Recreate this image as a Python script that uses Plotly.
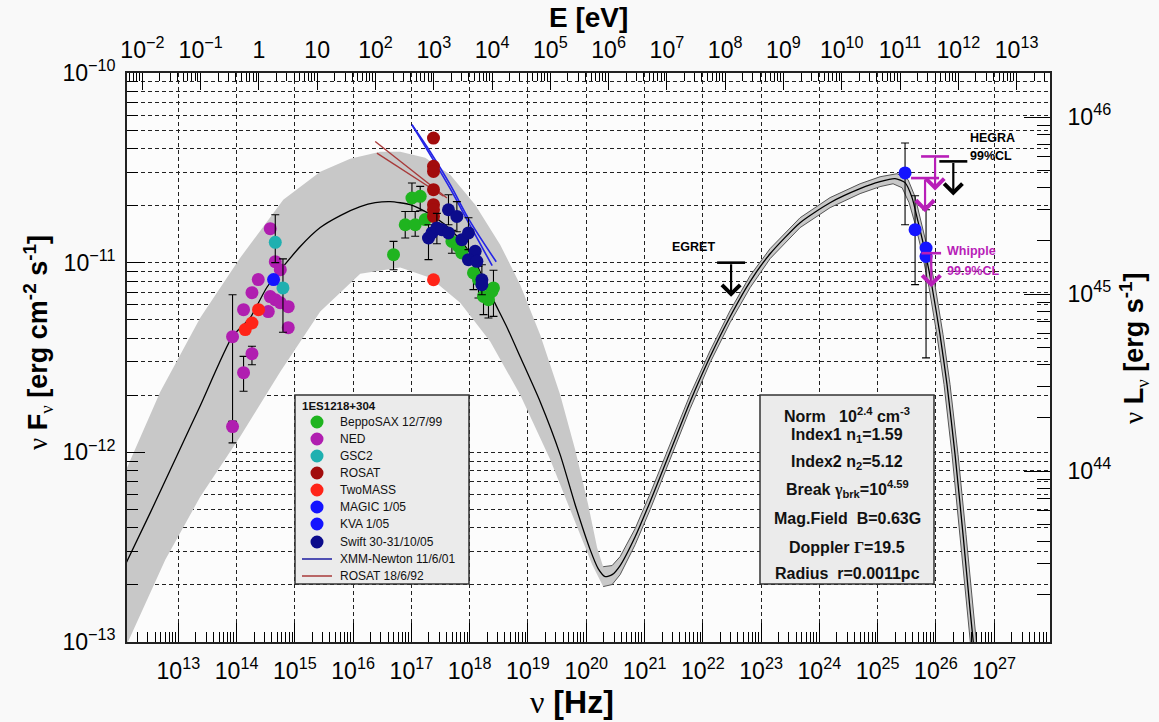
import numpy as np
import plotly.graph_objects as go

# ---------------------------------------------------------------
# 1ES1218+304 spectral energy distribution
# all values: log10(nu / Hz), log10(nu F_nu / erg cm^-2 s^-1)
# ---------------------------------------------------------------

# SSC model curve
model_lognu = [12.10, 12.520, 13.000, 13.377, 13.926, 14.235, 14.527, 15.093, 15.436, 15.779,
               16.122, 16.379, 16.636, 16.979, 17.271, 17.580, 17.837, 18.094, 18.403, 18.643,
               18.866, 19.209, 19.552, 19.810, 20.067, 20.204, 20.324, 20.444, 20.581, 20.839,
               21.096, 21.439, 21.782, 22.125, 22.468, 22.811, 23.154, 23.669, 24.183, 24.698,
               25.041, 25.298, 25.470, 25.590, 25.693, 25.813, 25.933, 26.070, 26.190, 26.328,
               26.465, 26.585, 26.688]
model_logf = [-12.587, -12.318, -12.002, -11.754, -11.390, -11.290, -11.127, -10.915, -10.815, -10.752,
              -10.705, -10.684, -10.678, -10.694, -10.736, -10.800, -10.879, -10.995, -11.195, -11.343,
              -11.496, -11.733, -12.012, -12.276, -12.513, -12.613, -12.655, -12.645, -12.597, -12.445,
              -12.260, -11.997, -11.733, -11.496, -11.285, -11.100, -10.953, -10.789, -10.684, -10.610,
              -10.573, -10.557, -10.578, -10.657, -10.784, -10.942, -11.127, -11.380, -11.643, -12.012,
              -12.434, -12.829, -13.145]

# model uncertainty band: upper and lower envelopes
band_hi_lognu = [12.10, 12.691, 13.377, 14.063, 14.801, 15.436, 15.950, 16.465, 16.808, 17.237,
                 17.666, 18.094, 18.523, 18.866, 19.209, 19.552, 19.810, 20.033, 20.187, 20.290,
                 20.444, 20.581, 20.839, 21.096, 21.439, 21.782, 22.125, 22.468, 22.811, 23.154,
                 23.669, 24.183, 24.698, 25.041, 25.333, 25.521, 25.641, 25.744, 25.864, 25.985,
                 26.122, 26.242, 26.379, 26.516, 26.636, 26.739]
band_hi_logf = [-12.095, -11.680, -11.290, -10.974, -10.668, -10.520, -10.452, -10.415, -10.415, -10.447,
                -10.536, -10.694, -10.905, -11.116, -11.380, -11.696, -11.986, -12.276, -12.503, -12.603,
                -12.597, -12.550, -12.402, -12.218, -11.959, -11.696, -11.464, -11.253, -11.069, -10.926,
                -10.763, -10.657, -10.584, -10.547, -10.531, -10.562, -10.652, -10.779, -10.937, -11.121,
                -11.380, -11.643, -12.012, -12.434, -12.829, -13.145]
band_lo_lognu = [12.039, 12.777, 13.377, 14.063, 14.750, 15.436, 16.122, 16.808, 17.322, 17.837,
                 18.352, 18.866, 19.381, 19.810, 20.101, 20.290, 20.444, 20.581, 20.839, 21.096,
                 21.439, 21.782, 22.125, 22.468, 22.811, 23.154, 23.669, 24.183, 24.698, 25.041,
                 25.264, 25.419, 25.539, 25.641, 25.762, 25.882, 26.019, 26.139, 26.276, 26.413,
                 26.533, 26.636]
band_lo_logf = [-13.066, -12.566, -12.234, -11.917, -11.575, -11.258, -11.058, -11.026, -11.079, -11.211,
                -11.416, -11.696, -12.038, -12.365, -12.592, -12.708, -12.697, -12.645, -12.487, -12.302,
                -12.033, -11.770, -11.527, -11.316, -11.132, -10.979, -10.815, -10.710, -10.636, -10.599,
                -10.584, -10.605, -10.684, -10.794, -10.947, -11.132, -11.385, -11.643, -12.012, -12.434,
                -12.829, -13.145]

# BeppoSAX 12/7/99 (error limits: None = no bar)
sax_lognu = [16.693, 16.894, 17.065, 17.237, 17.009, 17.151, 17.695, 17.808, 17.866, 18.065,
             18.151, 18.237, 18.322, 18.408, 18.381]
sax_logf = [-10.958, -10.800, -10.800, -10.773, -10.659, -10.650, -10.888, -10.914, -10.949, -11.054,
            -11.090, -11.178, -11.195, -11.133, -11.151]
sax_lo = [-11.037, -10.870, -10.861, None, -10.730, -10.726, -10.950, None, None, -11.142,
          -11.186, -11.274, -11.292, -11.283, None]
sax_hi = [-10.888, -10.730, -10.730, None, -10.580, -10.598, -10.830, None, None, -11.001,
          -11.019, -11.107, -11.116, -11.040, None]

# NED archival optical/IR
ned_lognu = [14.578, 14.664, 14.750, 14.372, 14.264, 14.120, 14.578, 14.664, 14.750, 14.887,
             14.544, 14.887, 13.931, 14.264, 14.120, 13.931]
ned_logf = [-10.821, -10.995, -11.037, -11.089, -11.158, -11.248, -11.179, -11.195, -11.211, -11.232,
            -11.258, -11.343, -11.390, -11.480, -11.580, -11.864]
ned_lo = [None] * 12 + [-11.837, -11.538, -11.678, -11.950]
ned_hi = [None] * 12 + [-11.169, -11.441, -11.494, -11.837]

# GSC2
gsc2_lognu = [14.664, 14.796]
gsc2_logf = [-10.893, -11.133]
gsc2_lo = [-11.000, -11.367]
gsc2_hi = [-10.747, -10.980]

# ROSAT
rosat_lognu = [17.379, 17.379, 17.379, 17.379, 17.379, 17.379, 17.379]
rosat_logf = [-10.343, -10.492, -10.519, -10.615, -10.694, -10.721, -10.756]

# TwoMASS
twomass_lognu = [14.149, 14.264, 14.377, 17.379]
twomass_logf = [-11.353, -11.318, -11.248, -11.090]

# KVA 1/05
kva_lognu = [14.635]
kva_logf = [-11.089]

# Swift 30-31/10/05
swift_lognu = [17.293, 17.352, 17.437, 17.523, 17.636, 17.780, 17.636, 17.866, 17.979, 18.094,
               17.979, 18.123, 18.209, 18.209]
swift_logf = [-10.870, -10.843, -10.817, -10.826, -10.721, -10.756, -10.843, -10.879, -10.843, -10.940,
              -10.984, -10.993, -11.090, -11.116]
swift_lo = [-10.984, None, -10.900, None, -10.800, -10.837, None, None, -10.931, None,
            None, None, -11.169, None]
swift_hi = [-10.800, None, -10.740, None, -10.642, -10.678, None, None, -10.763, None,
            None, None, -11.011, None]

# MAGIC 1/05
magic_lognu = [25.470, 25.642, 25.830, 25.830]
magic_logf = [-10.527, -10.826, -10.923, -10.967]
magic_lo = [-10.800, -11.116, None, -11.502]
magic_hi = [-10.369, -10.647, None, -10.721]

# XMM-Newton 11/6/01 and ROSAT 18/6/92 power-law fits (bow-tie edges)
xmm_a_lognu = [17.009, 17.322, 17.666, 18.009, 18.455]
xmm_a_logf = [-10.273, -10.415, -10.589, -10.784, -10.995]
xmm_b_lognu = [17.009, 17.322, 17.666, 18.009, 18.386]
xmm_b_logf = [-10.273, -10.431, -10.610, -10.805, -11.016]
rosfit_a_lognu = [16.379, 17.609]
rosfit_a_logf = [-10.361, -10.659]
rosfit_b_lognu = [16.408, 17.551]
rosfit_b_logf = [-10.422, -10.650]

# upper limits
egret_lognu, egret_logul = [22.485], [-11.000]
hegra_lognu, hegra_logul = [26.298], [-10.466]
whipple_lognu, whipple_logul = [25.985, 25.813], [-10.440, -10.554]
whipple999_lognu, whipple999_logul = [25.920], [-10.950]

# SSC model parameters
param_lines = [
    "Norm&nbsp;&nbsp;&nbsp;10<sup>2.4</sup> cm<sup>-3</sup>",
    "Index1 n<sub>1</sub>=1.59",
    "Index2 n<sub>2</sub>=5.12",
    "Break <span style='font-family:Liberation Serif'>γ</span><sub>brk</sub>=10<sup>4.59</sup>",
    "Mag.Field&nbsp; B=0.63G",
    "Doppler <span style='font-family:Liberation Serif'>Γ</span>=19.5",
    "Radius&nbsp; r=0.0011pc",
]

# legend entries
legend_title = "1ES1218+304"
legend_labels = ["BeppoSAX 12/7/99", "NED", "GSC2", "ROSAT", "TwoMASS", "MAGIC 1/05",
                 "KVA 1/05", "Swift 30-31/10/05", "XMM-Newton 11/6/01", "ROSAT 18/6/92"]
legend_colors = ["#1fb41f", "#b01eb0", "#1fb0b0", "#a20c0c", "#ff2418", "#1414ff",
                 "#1414ff", "#0c0c8c", "#1c1ca0", "#a83a3a"]
legend_kinds = ["marker"] * 8 + ["line"] * 2

# ---------------------------------------------------------------
FONT = "Liberation Sans, Arial, Helvetica, sans-serif"
H_EV = 14.3836          # log10(nu/Hz) - log10(E/eV)
X_RANGE = [12.12, 27.957]
Y_RANGE = [-13.0, -10.0]
YR_RANGE = [43.034, 46.249]   # nu L_nu axis
ARROW_DEC = 0.18               # length of upper-limit arrows (decades)

# plot area in pixels
L, R, T, B = 127, 1050, 73, 642
W, H = 1159, 722


def px(x):
    return (x - L) / (R - L)


def py(y):
    return (B - y) / (B - T)


def lin(v):
    return 10.0 ** np.asarray(v, dtype=float)


def err_arrays(logf, lo, hi):
    y = lin(logf)
    up = [10.0 ** h - v if h is not None else 0.0 for h, v in zip(hi, y)]
    dn = [v - 10.0 ** l if l is not None else 0.0 for l, v in zip(lo, y)]
    return up, dn


fig = go.Figure()

# model band
fig.add_trace(go.Scatter(
    x=np.concatenate([lin(band_hi_lognu), lin(band_lo_lognu)[::-1]]),
    y=np.concatenate([lin(band_hi_logf), lin(band_lo_logf)[::-1]]),
    mode="lines", fill="toself", fillcolor="#c8c8c8", line=dict(width=0),
    showlegend=False, hoverinfo="skip"))

# band edges in the inverse-Compton part
for bx, by in ((band_hi_lognu, band_hi_logf), (band_lo_lognu, band_lo_logf)):
    bx = np.asarray(bx)
    sel = bx >= 20.28
    fig.add_trace(go.Scatter(
        x=lin(bx[sel]), y=lin(np.asarray(by)[sel]), mode="lines",
        line=dict(color="#555555", width=1), showlegend=False, hoverinfo="skip"))

# model curve
fig.add_trace(go.Scatter(
    x=lin(model_lognu), y=lin(model_logf), mode="lines",
    line=dict(color="black", width=1.3, shape="spline", smoothing=0.6),
    showlegend=False, hoverinfo="skip"))

# bow-ties
for bx, by in ((xmm_a_lognu, xmm_a_logf), (xmm_b_lognu, xmm_b_logf)):
    fig.add_trace(go.Scatter(x=lin(bx), y=lin(by), mode="lines", name=legend_labels[8],
                             showlegend=False, line=dict(color="#2424e6", width=1.6, shape="spline")))
for bx, by in ((rosfit_a_lognu, rosfit_a_logf), (rosfit_b_lognu, rosfit_b_logf)):
    fig.add_trace(go.Scatter(x=lin(bx), y=lin(by), mode="lines", name=legend_labels[9],
                             showlegend=False, line=dict(color=legend_colors[9], width=1.4)))


def add_points(idx, lognu, logf, lo=None, hi=None, size=13):
    kw = {}
    if lo is not None:
        up, dn = err_arrays(logf, lo, hi)
        kw["error_y"] = dict(type="data", symmetric=False, array=up, arrayminus=dn,
                             color="black", thickness=1.1, width=4)
    fig.add_trace(go.Scatter(
        x=lin(lognu), y=lin(logf), mode="markers", name=legend_labels[idx], showlegend=False,
        marker=dict(color=legend_colors[idx], size=size, line=dict(width=0)), **kw))


add_points(0, sax_lognu, sax_logf, sax_lo, sax_hi)
add_points(1, ned_lognu, ned_logf, ned_lo, ned_hi)
add_points(2, gsc2_lognu, gsc2_logf, gsc2_lo, gsc2_hi)
add_points(3, rosat_lognu, rosat_logf)
add_points(4, twomass_lognu, twomass_logf)
add_points(6, kva_lognu, kva_logf)
add_points(7, swift_lognu, swift_logf, swift_lo, swift_hi)
add_points(5, magic_lognu, magic_logf, magic_lo, magic_hi)


def add_upper_limits(lognu, logul, color, bar=20):
    fig.add_trace(go.Scatter(
        x=lin(lognu), y=lin(logul), mode="markers",
        marker=dict(symbol="line-ew", size=bar, line=dict(color=color, width=2.6)),
        showlegend=False, hoverinfo="skip"))
    for xn, yl in zip(lognu, logul):
        fig.add_annotation(x=xn, y=yl - ARROW_DEC, ax=xn, ay=yl,
                           xref="x", yref="y", axref="x", ayref="y", text="",
                           showarrow=True, arrowhead=4, arrowsize=1.6, arrowwidth=2.2,
                           arrowcolor=color)


add_upper_limits(egret_lognu, egret_logul, "black")
add_upper_limits(hegra_lognu, hegra_logul, "black")
add_upper_limits(whipple_lognu, whipple_logul, "#b81eb8")
add_upper_limits(whipple999_lognu, whipple999_logul, "#b81eb8", bar=14)

# helper traces so the secondary axes are drawn
fig.add_trace(go.Scatter(x=[1.0], y=[1e-11], xaxis="x2", yaxis="y", mode="markers",
                         marker=dict(opacity=0), showlegend=False, hoverinfo="skip"))
fig.add_trace(go.Scatter(x=[1e20], y=[1e45], xaxis="x", yaxis="y2", mode="markers",
                         marker=dict(opacity=0), showlegend=False, hoverinfo="skip"))

# labels of the upper limits
lab = dict(xref="x", yref="y", showarrow=False, yanchor="middle", font=dict(family=FONT, size=12.5))
fig.add_annotation(x=egret_lognu[0] - 0.24, y=egret_logul[0] + 0.08, text="<b>EGRET</b>",
                   xanchor="right", **lab)
fig.add_annotation(x=hegra_lognu[0] + 0.25, y=hegra_logul[0] + 0.125, text="<b>HEGRA</b>",
                   xanchor="left", **lab)
fig.add_annotation(x=hegra_lognu[0] + 0.25, y=hegra_logul[0] + 0.03, text="<b>99%CL</b>",
                   xanchor="left", **lab)
labm = dict(lab, font=dict(family=FONT, size=12.5, color="#b81eb8"))
fig.add_annotation(x=whipple999_lognu[0] + 0.24, y=whipple999_logul[0] + 0.01, text="<b>Whipple</b>",
                   xanchor="left", **labm)
fig.add_annotation(x=whipple999_lognu[0] + 0.24, y=whipple999_logul[0] - 0.095, text="<b>99.9%CL</b>",
                   xanchor="left", **labm)


def paper_text(x, y, text, size, xanchor="center", angle=0, color="black"):
    fig.add_annotation(x=px(x), y=py(y), xref="paper", yref="paper", showarrow=False,
                       xanchor=xanchor, yanchor="middle", textangle=angle, text=text,
                       font=dict(family=FONT, size=size, color=color))


# parameter box
fig.add_shape(type="rect", xref="paper", yref="paper", x0=px(760), x1=px(934), y0=py(584), y1=py(395),
              fillcolor="#ebebeb", line=dict(color="#333333", width=1.5), layer="above")
param_y = [415, 436, 463, 489, 518, 547, 573]
for txt, yy in zip(param_lines, param_y):
    paper_text(847, yy, "<b>" + txt + "</b>", 16, color="#111")

# legend box
fig.add_shape(type="rect", xref="paper", yref="paper", x0=px(295), x1=px(469), y0=py(584), y1=py(395),
              fillcolor="#ebebeb", line=dict(color="#333333", width=1.5), layer="above")
paper_text(300, 406, "<b>" + legend_title + "</b>", 11.5, xanchor="left", color="#111")
legend_y = [422, 439, 456, 473, 490, 507, 524, 542, 559, 576]
for lbl, col, kind, yy in zip(legend_labels, legend_colors, legend_kinds, legend_y):
    if kind == "marker":
        fig.add_shape(type="circle", xref="paper", yref="paper", xsizemode="pixel", ysizemode="pixel",
                      xanchor=px(317), yanchor=py(yy), x0=-6.5, x1=6.5, y0=-6.5, y1=6.5,
                      fillcolor=col, line=dict(width=0), layer="above")
    else:
        fig.add_shape(type="line", xref="paper", yref="paper", x0=px(302), x1=px(332),
                      y0=py(yy), y1=py(yy), line=dict(color=col, width=1.5), layer="above")
    paper_text(338, yy, lbl, 12, xanchor="left", color="#111")

# axis titles
nu = "<span style='font-family:Liberation Serif'>ν</span>"
paper_text(588, 18, "<b>E [eV]</b>", 28)
paper_text(572, 702, nu + " <b>[Hz]</b>", 32)
paper_text(38, 343, nu + " <b>F</b><sub>" + nu + "</sub> <b>[erg cm<sup>-2</sup> s<sup>-1</sup>]</b>",
           27, angle=-90)
paper_text(1134, 348, nu + " <b>L</b><sub>" + nu + "</sub> <b>[erg s<sup>-1</sup>]</b>", 27, angle=-90)

tickfont = dict(family=FONT, size=18.5, color="black")
grid_dash = "4px,3px"

fig.update_layout(
    width=W, height=H,
    margin=dict(l=L, r=W - R, t=T, b=H - B, autoexpand=False),
    paper_bgcolor="#f9f9f9", plot_bgcolor="#fcfcfc",
    font=dict(family=FONT, color="black"),
    showlegend=False,
    xaxis=dict(type="log", range=X_RANGE, dtick=1, exponentformat="power",
               ticks="inside", ticklen=19, tickwidth=1, tickcolor="black",
               showline=True, linecolor="#222", linewidth=1.5,
               showgrid=True, gridcolor="#222", gridwidth=1, griddash=grid_dash,
               minor=dict(dtick="D1", ticks="inside", ticklen=10, tickcolor="black", showgrid=False),
               tickfont=tickfont, ticklabelstandoff=8, zeroline=False),
    xaxis2=dict(type="log", overlaying="x", side="top", anchor="y",
                range=[X_RANGE[0] - H_EV, X_RANGE[1] - H_EV], dtick=1, exponentformat="power",
                ticks="inside", ticklen=17, tickwidth=1, tickcolor="black",
                showline=True, linecolor="#222", linewidth=1.5, showgrid=False,
                minor=dict(dtick="D1", ticks="inside", ticklen=8, tickcolor="black", showgrid=False),
                tickfont=tickfont, ticklabelstandoff=5, zeroline=False),
    yaxis=dict(type="log", range=Y_RANGE, dtick=1, exponentformat="power",
               ticks="inside", ticklen=18, tickwidth=1, tickcolor="black",
               showline=True, linecolor="#222", linewidth=1.5,
               showgrid=True, gridcolor="#222", gridwidth=1, griddash=grid_dash,
               minor=dict(dtick="D1", ticks="inside", ticklen=11, tickcolor="black",
                          showgrid=True, gridcolor="#222", gridwidth=1, griddash=grid_dash),
               tickfont=tickfont, ticklabelstandoff=6, zeroline=False),
    yaxis2=dict(type="log", overlaying="y", side="right", anchor="x",
                range=YR_RANGE, dtick=1, exponentformat="power",
                ticks="inside", ticklen=26, tickwidth=1, tickcolor="black",
                showline=True, linecolor="#222", linewidth=1.5, showgrid=False,
                minor=dict(dtick="D1", ticks="inside", ticklen=13, tickcolor="black", showgrid=False),
                tickfont=tickfont, ticklabelstandoff=12, zeroline=False),
)

fig.write_html("out.html")
